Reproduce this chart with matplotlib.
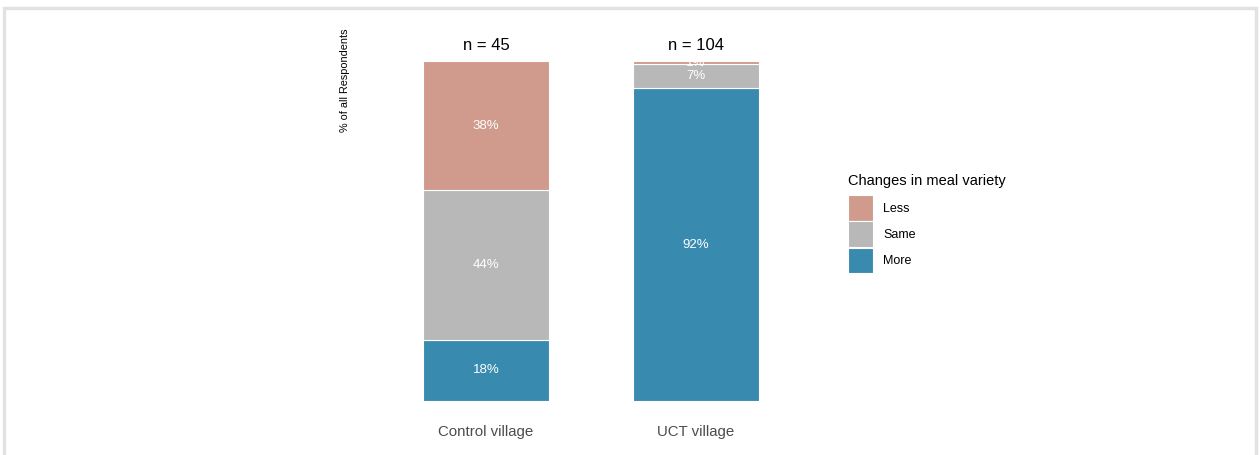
import matplotlib
matplotlib.use("Agg")
import matplotlib.pyplot as plt
from matplotlib.patches import Rectangle

plt.rcParams['font.family'] = ['Liberation Sans', 'DejaVu Sans']

# data
villages = ['Control village', 'UCT village']
sample_sizes = [45, 104]
categories = ['More', 'Same', 'Less']
more_pct = [18, 92]
same_pct = [44, 7]
less_pct = [38, 1]

colors = {'Less': '#D09B8D', 'Same': '#B8B8B8', 'More': '#388BAF'}

fig = plt.figure(figsize=(12.6, 4.55), dpi=100)
ax = fig.add_axes([360 / 1260, 1 - 401 / 455, 462 / 1260, 340 / 455])

x = [1, 2]
bottom = [0, 0]
handles = {}
for cat, vals in zip(categories, [more_pct, same_pct, less_pct]):
    bars = ax.bar(x, vals, width=0.6, bottom=bottom, color=colors[cat],
                  edgecolor='white', linewidth=0.8, label=cat)
    handles[cat] = bars
    for xi, b, v in zip(x, bottom, vals):
        ax.text(xi, b + v / 2, f"{v}%", ha='center', va='center',
                color='white', fontsize=9.5)
    bottom = [b + v for b, v in zip(bottom, vals)]

for xi, n in zip(x, sample_sizes):
    ax.text(xi, 104.6, f"n = {n}", ha='center', va='center',
            fontsize=12, color='black', clip_on=False)

ax.set_xlim(0.4, 2.6)
ax.set_ylim(0, 100)
ax.set_xticks(x)
ax.set_xticklabels(villages, fontsize=10.8, color='#4D4D4D')
ax.tick_params(axis='x', length=0, pad=17)
ax.set_yticks([])
for s in ax.spines.values():
    s.set_visible(False)

fig.text(345 / 1260, 1 - 28 / 455, '% of all Respondents', rotation=90,
         ha='center', va='top', fontsize=7.8)

leg = fig.legend([handles[c] for c in ['Less', 'Same', 'More']],
                 ['Less', 'Same', 'More'], title='Changes in meal variety',
                 loc='upper left', bbox_to_anchor=(837 / 1260, 1 - 163 / 455),
                 frameon=False, fontsize=9, title_fontsize=10.5,
                 handlelength=1.95, handleheight=2.75, labelspacing=0.06,
                 handletextpad=0.85, alignment='left')
# a bit more room between the legend title and the keys
leg._legend_box.sep = 5

# light frame around the figure
fig.patches.append(Rectangle((0.003, -0.01), 0.994, 1.0 - 0.0066, transform=fig.transFigure,
                             fill=False, edgecolor='#E2E2E2', linewidth=2.5))

fig.savefig('out.png', dpi=100)
